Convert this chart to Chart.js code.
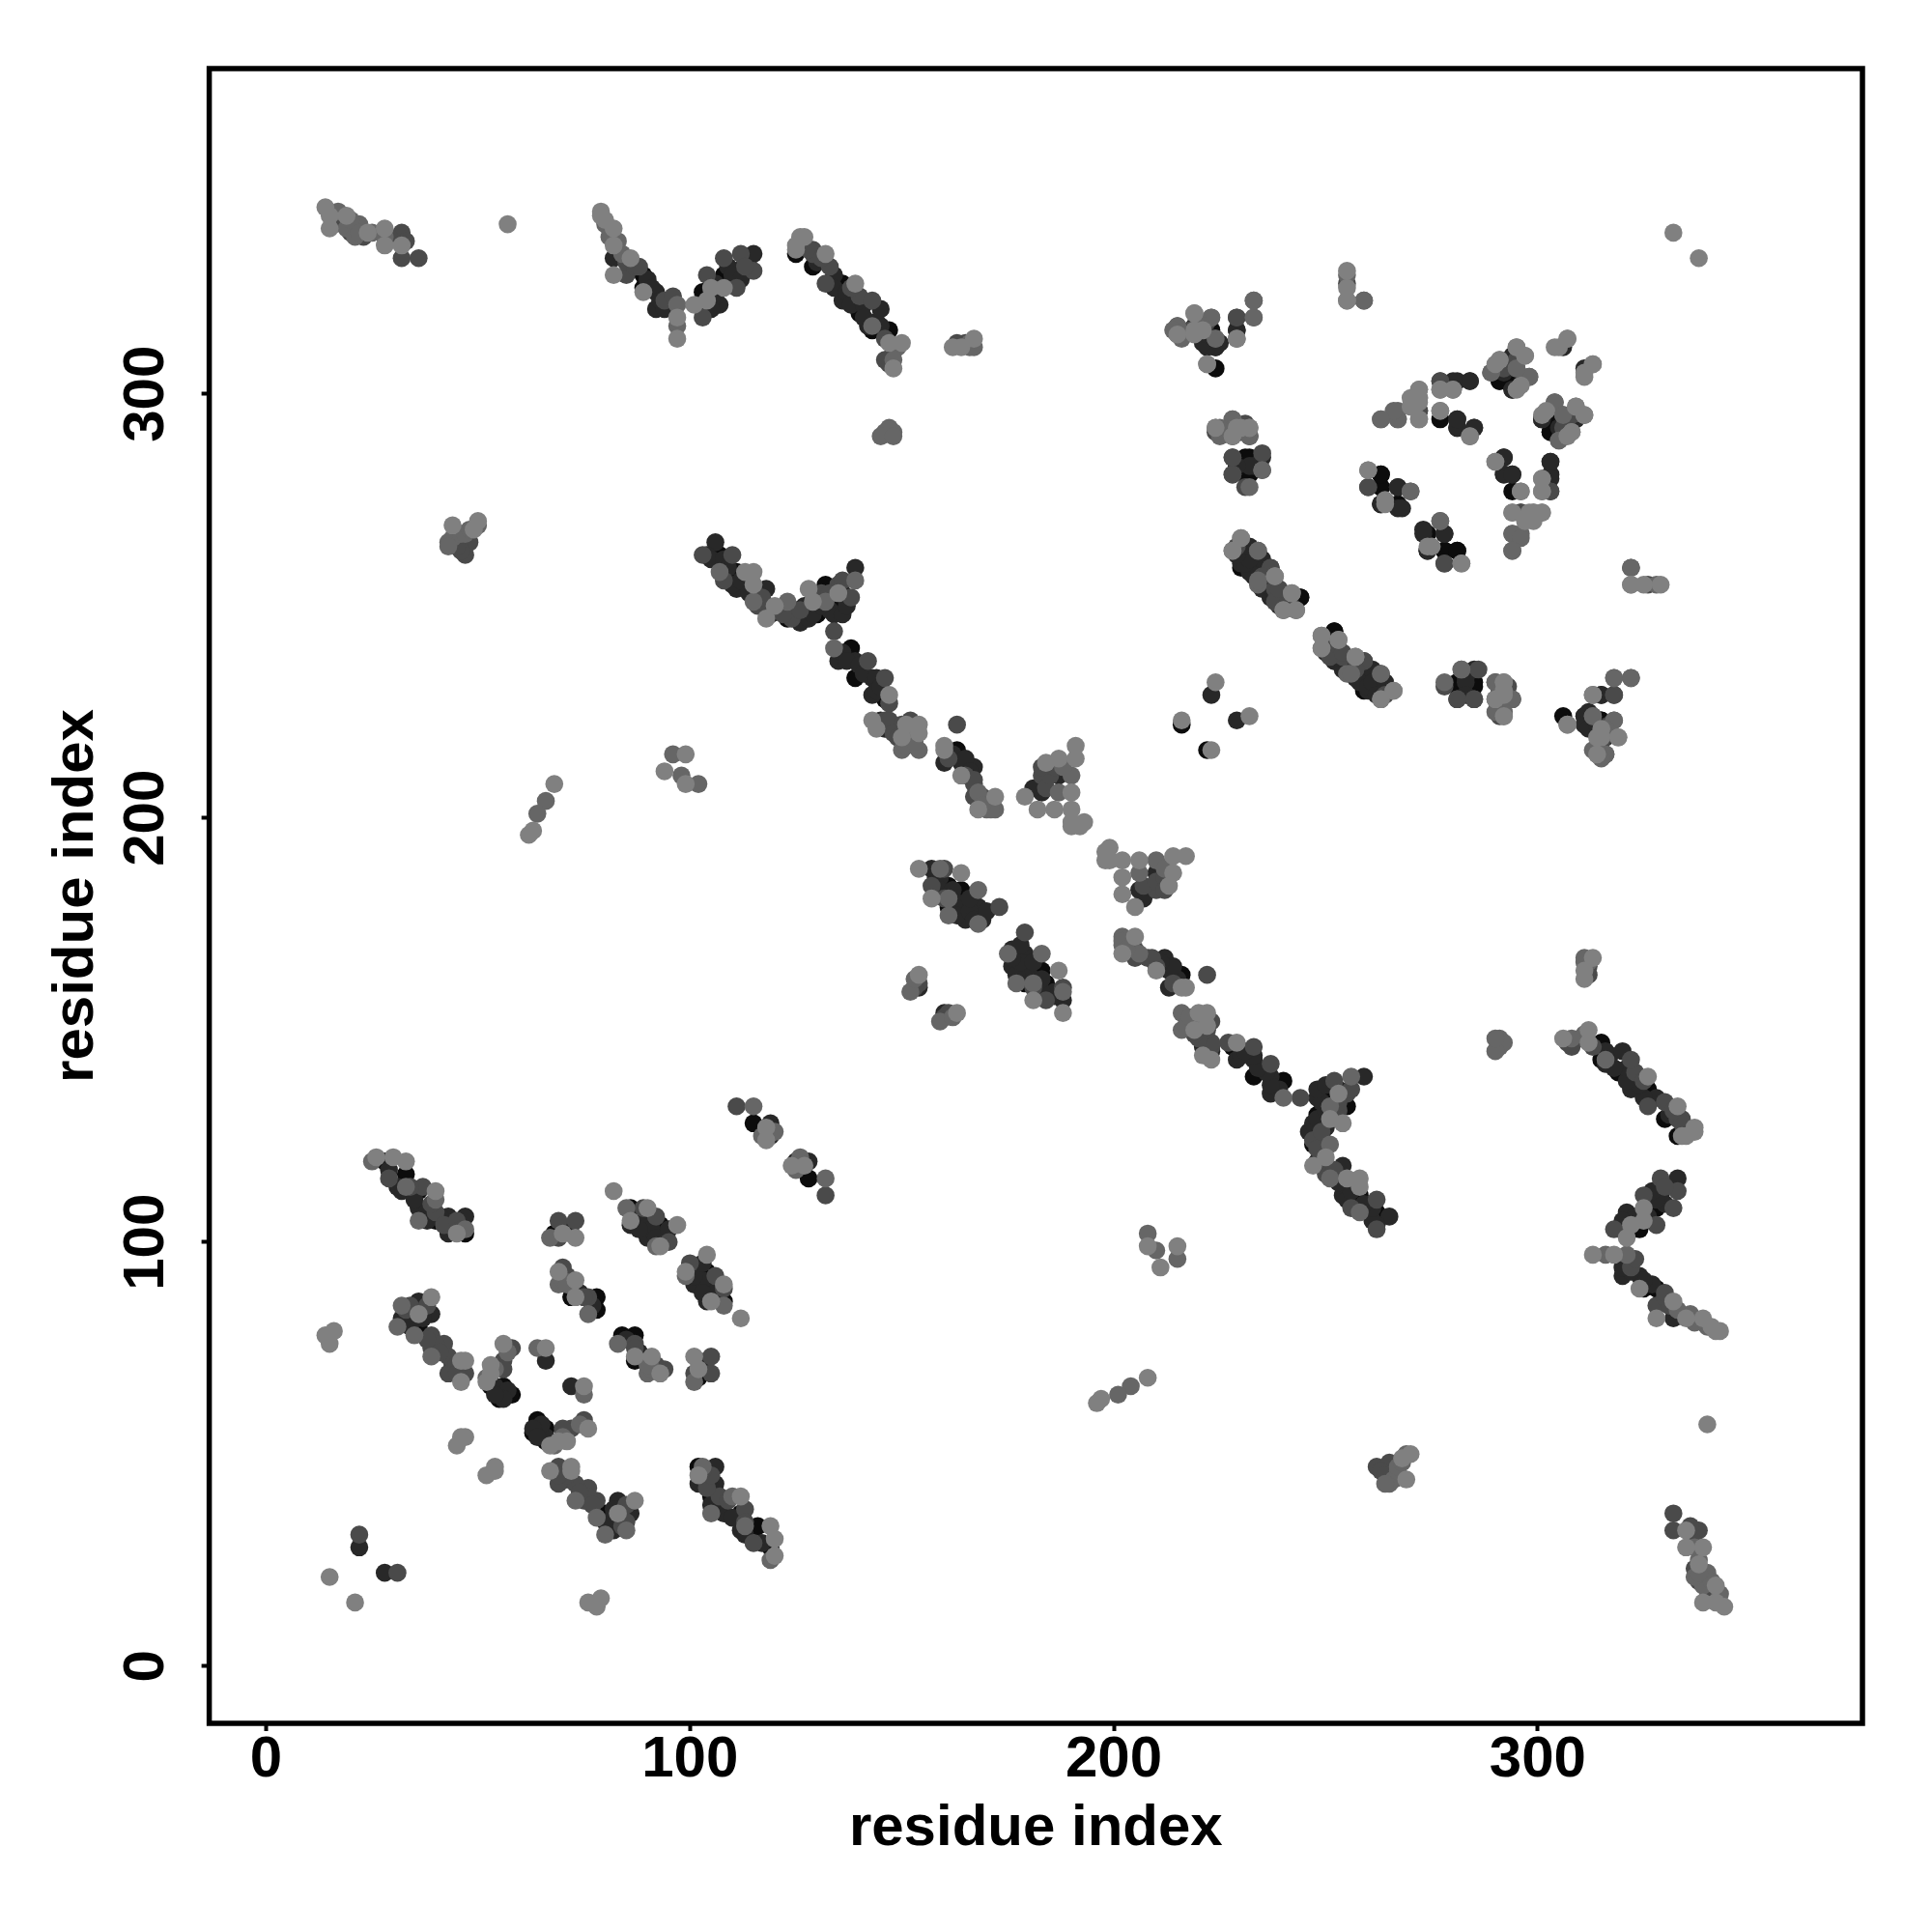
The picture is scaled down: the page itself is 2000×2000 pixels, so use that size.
<!DOCTYPE html>
<html><head><meta charset="utf-8">
<script src="https://cdn.jsdelivr.net/npm/chart.js@4/dist/chart.umd.min.js"></script>
<style>html,body{margin:0;padding:0;background:#fff}canvas{display:block}</style>
</head><body><canvas id="c" width="2000" height="2000"></canvas>
<script>
const tickValues=[0,100,200,300];
const axisTitle="residue index";
// residue contact pairs [i,j], i<j, grouped by grey level (a contact map shows each pair at (i,j) and (j,i))
const contactsBlack=[[28,119],[33,116],[36,112],[40,105],[47,102],[36,80],[53,66],[56,66],[58,64],[55,63],[68,102],[72,87],[78,87],[78,84],[86,108],[93,104],[94,101],[115,128],[103,321],[107,325],[104,324],[108,328],[103,324],[102,321],[125,333],[129,330],[136,326],[140,319],[143,315],[147,315],[89,325],[89,328],[223,315],[232,285],[232,281],[230,263],[234,260],[244,252],[291,303],[303,295],[303,291],[294,277],[263,281],[263,278],[263,274],[267,274],[278,263],[281,263],[252,244],[252,238],[252,237],[259,234],[259,230],[263,230],[281,231],[285,231],[306,224],[315,223],[107,262],[111,258],[123,247],[130,248],[132,255],[135,251],[138,240],[139,233],[146,228],[163,216],[161,184],[164,183],[161,179],[164,180],[216,222]];
const contactsDark=[[29,117],[32,112],[36,108],[43,106],[47,106],[43,102],[39,83],[36,86],[32,82],[56,64],[66,72],[22,28],[44,265],[86,104],[90,105],[90,101],[119,128],[119,125],[82,332],[92,324],[92,320],[107,321],[115,333],[111,329],[136,322],[142,316],[139,323],[224,311],[229,315],[306,311],[281,303],[284,303],[294,301],[281,294],[281,292],[285,292],[292,285],[292,281],[294,281],[303,284],[303,280],[267,278],[267,273],[273,268],[278,267],[274,263],[278,260],[230,260],[234,256],[237,252],[309,294],[305,292],[301,294],[285,235],[311,224],[311,222],[316,219],[315,229],[223,229],[106,265],[111,254],[118,254],[127,250],[127,247],[134,248],[139,259],[135,237],[139,237],[143,233],[143,229],[146,221],[160,213],[164,213],[167,212],[183,206],[187,210],[157,188],[165,176],[168,179],[169,176],[154,160],
[31,113],[35,110],[38,107],[41,106],[44,104],[38,105],[37,84],[37,82],[33,82],[34,80],[44,71],[54,66],[57,65],[56,63],[54,64],[71,103],[72,102],[74,88],[77,85],[87,106],[88,105],[91,103],[92,101],[95,103],[88,103],[106,326],[106,323],[109,330],[110,326],[110,328],[112,327],[105,322],[105,320],[90,327],[91,325],[93,322],[94,320],[130,331],[134,328],[134,325],[137,324],[138,321],[141,321],[141,318],[144,317],[145,316],[145,320],[231,262],[232,261],[233,257],[235,258],[235,254],[236,256],[239,251],[250,242],[250,239],[253,238],[255,236],[258,232],[260,231],[261,235],[261,232],[262,229],[264,232],[283,233],[283,232],[283,229],[312,221],[312,225],[314,222],[315,221],[317,220],[104,262],[105,261],[108,261],[109,259],[110,255],[112,256],[114,253],[119,248],[125,249],[126,246],[128,247],[129,248],[133,249],[136,253],[136,248],[137,250],[131,250],[136,239],[137,237],[140,236],[141,234],[144,233],[144,230],[145,231],[145,223],[147,221],[161,215],[162,215],[165,214],[166,211],[158,186],[159,186],[159,183],[162,183],[163,180],[163,177],[166,178],[166,181],[167,176],[170,178],[181,207]];
const contactsMid=[[29,115],[37,113],[40,107],[39,78],[39,75],[42,76],[43,73],[43,69],[47,69],[58,75],[56,72],[69,105],[73,105],[70,94],[76,87],[22,31],[111,132],[89,108],[32,338],[32,332],[36,332],[85,328],[103,318],[104,328],[108,332],[112,333],[115,329],[111,325],[129,333],[133,330],[132,326],[140,323],[143,322],[129,334],[147,307],[165,312],[215,316],[229,318],[228,290],[228,285],[235,286],[228,281],[272,296],[277,303],[292,306],[295,306],[298,304],[295,308],[260,278],[237,259],[255,326],[296,272],[303,277],[322,259],[278,231],[281,228],[285,228],[259,237],[263,234],[290,232],[291,224],[313,224],[318,229],[47,262],[47,265],[103,262],[110,262],[118,250],[124,247],[135,255],[138,252],[134,244],[142,237],[146,233],[146,223],[147,223],[150,222],[163,222],[167,208],[167,205],[183,210],[160,188],[157,184],[173,179],
[16,340],[20,338],[21,339],[23,337],[29,337],[33,336],[85,331],[87,330],[88,330],[94,322],[96,323],[113,330],[127,335],[128,334],[131,332],[138,325],[146,313],[148,310],[146,308],[163,312],[48,265],[46,263],[45,264],[34,113],[39,109],[42,104],[45,105],[46,103],[33,84],[34,85],[38,85],[40,76],[41,74],[45,71],[45,69],[38,77],[56,70],[69,101],[71,92],[75,87],[92,106],[95,100],[238,254],[238,251],[251,241],[254,239],[257,235],[264,229],[291,230],[293,231],[315,218],[317,222],[108,256],[116,250],[117,252],[122,248],[126,249],[131,253],[133,253],[136,256],[147,227],[148,220],[149,219],[152,223],[161,214],[165,210],[167,209],[169,205],[170,204],[184,207],[185,210],[186,212],[183,212],[160,181],[154,161],[153,160]];
const contactsGrey=[[25,119],[40,110],[33,113],[36,105],[47,103],[32,85],[31,80],[35,78],[39,73],[64,75],[67,101],[69,90],[76,83],[85,108],[115,132],[19,339],[22,340],[21,337],[97,321],[97,316],[148,291],[146,291],[143,316],[215,314],[223,318],[224,313],[229,313],[233,318],[233,322],[259,322],[228,294],[232,290],[232,278],[235,282],[234,263],[234,255],[243,249],[263,294],[267,296],[267,294],[280,301],[284,290],[289,305],[304,298],[306,295],[305,289],[294,267],[296,266],[294,263],[270,277],[277,270],[282,235],[249,240],[256,234],[263,228],[294,228],[292,224],[318,223],[316,221],[316,215],[318,233],[322,233],[107,258],[115,251],[123,251],[132,251],[139,256],[134,240],[150,216],[154,216],[168,206],[187,206],[172,202],[190,210],[168,183],[161,181],[161,177],[168,175],[152,159],[66,204],[64,201],[96,215],[98,210],[102,208],[328,255],[43,265],[166,311],
[17,343],[20,341],[22,338],[25,338],[28,337],[80,340],[81,339],[81,337],[83,336],[84,333],[149,311],[148,308],[166,312],[167,311],[147,292],[145,290],[148,290],[44,266],[46,267],[47,267],[48,268],[43,264],[50,269],[52,68],[54,70],[57,74],[70,91],[71,90],[92,99],[117,125],[120,126],[151,217],[152,220],[153,218],[170,202],[171,202],[169,203],[188,212],[159,188],[153,162],[313,216],[315,214],[292,225],[290,225]];
const contactsLight=[[26,120],[30,120],[33,119],[40,112],[45,102],[39,87],[36,83],[46,72],[47,72],[46,67],[56,76],[53,71],[53,69],[52,67],[66,75],[46,54],[47,54],[45,52],[15,21],[16,79],[14,78],[15,76],[70,102],[73,101],[69,93],[73,91],[73,87],[82,112],[90,108],[86,105],[97,104],[93,99],[118,124],[118,127],[14,344],[15,342],[15,339],[19,342],[24,338],[28,339],[28,335],[32,335],[57,340],[79,343],[79,342],[80,341],[82,339],[82,335],[82,328],[86,332],[89,324],[97,318],[97,313],[101,321],[104,322],[105,325],[108,325],[126,337],[127,337],[125,334],[125,335],[132,333],[139,326],[147,312],[150,312],[148,306],[162,311],[164,311],[167,313],[219,319],[219,315],[221,315],[222,307],[229,292],[224,292],[232,292],[255,329],[255,322],[230,266],[228,263],[238,257],[240,249],[242,253],[270,299],[272,301],[272,299],[272,294],[277,301],[277,296],[291,308],[295,311],[297,309],[296,302],[305,311],[307,313],[311,304],[313,307],[301,295],[309,297],[311,295],[308,291],[307,290],[290,284],[296,277],[301,280],[301,277],[294,272],[298,272],[301,272],[299,272],[297,270],[260,282],[264,275],[274,264],[282,260],[322,255],[325,255],[249,243],[253,242],[257,238],[266,230],[292,232],[292,230],[290,228],[307,222],[314,219],[319,219],[314,215],[313,229],[224,232],[216,223],[113,258],[115,258],[115,255],[118,247],[120,250],[128,254],[129,251],[135,253],[143,223],[144,221],[151,222],[154,222],[154,220],[150,219],[160,216],[160,217],[164,210],[168,202],[172,205],[179,205],[182,202],[186,202],[190,206],[190,202],[190,199],[192,198],[193,199],[190,198],[184,213],[187,214],[191,217],[191,214],[154,188],[164,187],[157,181],[154,163],[147,229],[49,268],[50,270],[44,269],[68,208],[63,197],[62,196],[99,215],[94,211],[99,208],[332,338]];

const toPoints=list=>list.flatMap(([i,j])=>[{x:i,y:j},{x:j,y:i}]);
const dataset=(list,color,order)=>({data:toPoints(list),backgroundColor:color,borderWidth:0,pointRadius:9.3,pointHoverRadius:9.3,order});
const framePlugin={id:'frame',afterDatasetsDraw(chart){const a=chart.chartArea,c=chart.ctx;c.save();c.strokeStyle='#000';c.lineWidth=5.5;c.strokeRect(a.left,a.top,a.right-a.left,a.bottom-a.top);c.restore();}};
const font={family:'"Liberation Sans",Arial,sans-serif',size:60,weight:'bold'};
const setTicks=s=>{s.ticks=tickValues.map(v=>({value:v}));};
new Chart(document.getElementById('c'),{type:'scatter',
 data:{datasets:[dataset(contactsLight,'#808080',1),dataset(contactsGrey,'#666666',2),dataset(contactsMid,'#4a4a4a',3),dataset(contactsDark,'#282828',4),dataset(contactsBlack,'#0c0c0c',5)]},
 plugins:[framePlugin],
 options:{responsive:false,animation:false,
  layout:{padding:{top:71,right:72,left:0,bottom:0}},
  plugins:{legend:{display:false},tooltip:{enabled:false}},
  scales:{
   x:{type:'linear',min:-13.4,max:376.6,afterBuildTicks:setTicks,afterFit:s=>{s.height=216;},
      grid:{drawOnChartArea:false,drawTicks:true,tickLength:8,tickWidth:4,tickColor:'#000'},border:{display:false},
      ticks:{color:'#000',font,padding:-6,maxRotation:0,autoSkip:false,callback:v=>String(v)},
      title:{display:true,text:axisTitle,color:'#000',font,padding:{top:0,bottom:71}}},
   y:{type:'linear',min:-13.5,max:376.7,afterBuildTicks:setTicks,afterFit:s=>{s.width=216.6;},
      grid:{drawOnChartArea:false,drawTicks:true,tickLength:8,tickWidth:4,tickColor:'#000'},border:{display:false},
      ticks:{color:'#000',font,padding:6,minRotation:90,maxRotation:90,crossAlign:'center',autoSkip:false,callback:v=>String(v)},
      title:{display:true,text:axisTitle,color:'#000',font,padding:{top:43,bottom:0}}}
  }}});
</script></body></html>
